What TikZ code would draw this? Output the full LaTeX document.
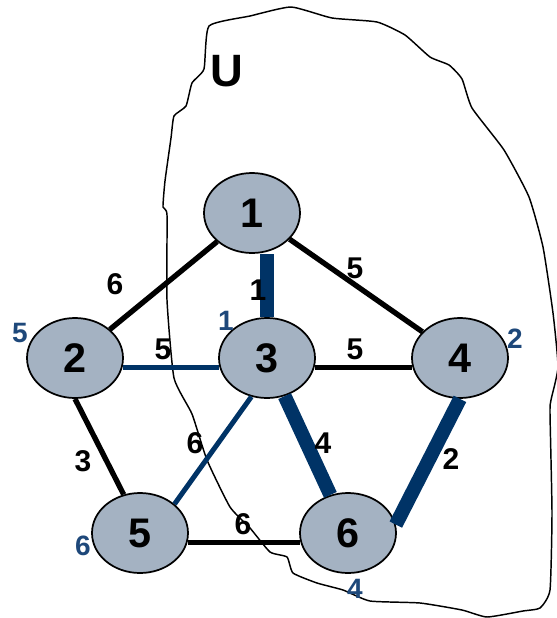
\documentclass[tikz,border=0pt]{standalone}
\usepackage{fontspec}
\setmainfont{Liberation Sans}
\usetikzlibrary{shapes.geometric}
\definecolor{navy}{RGB}{0,51,102}
\definecolor{dblue}{RGB}{30,72,122}
\definecolor{vfill}{RGB}{164,178,194}
\tikzset{
  vertex/.style={ellipse, draw=black, line width=1.3pt, fill=vfill, minimum width=72pt,
    minimum height=60pt, inner sep=0pt, font=\fontsize{31}{31}\selectfont\bfseries},
  wt/.style={inner sep=0pt, font=\fontsize{22.5}{22.5}\selectfont\bfseries},
  dist/.style={inner sep=0pt, text=dblue, font=\fontsize{21}{21}\selectfont\bfseries},
  blackedge/.style={line width=4pt},
  blueedge/.style={navy, line width=3.75pt},
  treeedge/.style={navy, line width=10.5pt}
}
\begin{document}
\begin{tikzpicture}[x=0.75pt,y=-0.75pt]
\useasboundingbox (0,0) rectangle (557,618);
\clip (0,0) rectangle (557,618);
\draw[line width=1.1pt] plot[smooth cycle, tension=0.3] coordinates {
  (209,26) (250,16) (291,7) (332,18) (377,22) (405,35) (430,57) (449,65) (462,79)
  (472,108) (504,150) (529,197) (543,247) (553,313) (558,367) (551,400) (550,413)
  (552,513) (550,590) (540,608) (523,611) (487,617) (462,610) (420,603) (370,601)
  (343,590) (317,583) (293,573) (287,557) (270,552) (250,528) (230,507) (207,460)
  (192,414) (174,378) (167,300) (167,215) (163,207) (165,181) (171,138) (174,116)
  (186,106) (192,83) (204,69)};
\node[inner sep=0pt, font=\fontsize{34}{34}\selectfont\bfseries] (U) at (227,71) {U};
\foreach \n/\x/\y in {1/252/213, 2/75/358, 3/267/358, 4/460/358, 5/140/533, 6/348/533}
  \node[vertex] (\n) at (\x,\y) {\n};
\draw[blackedge] (1) -- (2);
\draw[blackedge] (1) -- (4);
\draw[treeedge] (3.north) -- (3.north |- 1.south);
\draw[blueedge] (2.-11) -- (3.191);
\draw[blackedge] (3.-11) -- (4.191);
\draw[blackedge] (2.south) -- (5.113);
\draw[blueedge] (3.-112) -- (5.40);
\draw[treeedge] (3) -- (6);
\draw[treeedge] (4.south) -- (6.10);
\draw[blackedge] (5.-11) -- (6.191);
\foreach \e/\x/\y/\t in {12/115/284/6, 13/258/290/1, 14/355/268/5, 23/163/349/5, 34/355/349/5,
  25/83/461/3, 35/195/443/6, 36/323/443/4, 46/451/459/2, 56/243/524/6}
  \node[wt] (w\e) at (\x,\y) {\t};
\foreach \n/\x/\y/\t in {2/20/333/5, 3/226/321/1, 4/515/339/2, 5/83/546/6, 6/355/589/4}
  \node[dist] (d\n) at (\x,\y) {\t};
\end{tikzpicture}
\end{document}
